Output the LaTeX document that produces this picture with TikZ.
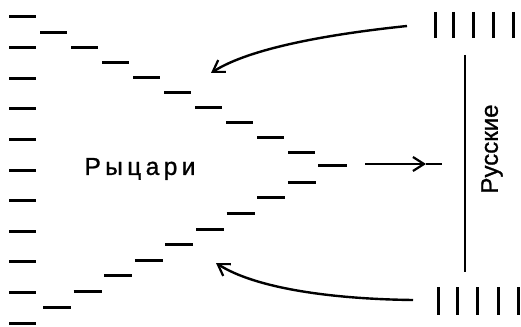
\documentclass[tikz,border=0pt]{standalone}
\usepackage{fontspec}
\setmainfont{Liberation Sans}
\usetikzlibrary{arrows.meta}
\begin{document}
\begin{tikzpicture}[x=1pt,y=-1pt,
    warrior/.style={line width=3pt},
    pike/.style={line width=3pt},
    move/.style={line width=2.4pt,-{Straight Barb[length=11pt,width=14pt,line width=2.2pt]}}]

        \useasboundingbox (0,0) rectangle (521,326);

        % knights: back row and the wedge
        \begin{scope}[every path/.style={warrior}]
          \foreach \i in {0,...,10}
            \draw (9,17+30.6*\i) -- ++(27,0);
          \foreach \i in {0,...,8} {
            \draw (40+31*\i,33+14.9*\i) -- ++(27,0);
            \draw (43+30.6*\i,307-15.6*\i) -- ++(28,0);
          }
          \draw (318,165) -- (347,165);
        \end{scope}

        % russians
        \begin{scope}[every path/.style={pike}]
          \foreach \x in {435,453,473,493,513}
            \draw (\x,12) -- (\x,38);
          \foreach \x in {438,457,477,498,518}
            \draw (\x,287) -- (\x,315);
        \end{scope}
        \draw[line width=2.4pt] (465,55) -- (465,272);

        \node (knights) at (140,169) {\fontsize{24.5}{28}\selectfont\addfontfeature{LetterSpace=18,FakeBold=1}Рыцари};
        \node[rotate=90] (russians) at (492,149) {\fontsize{24}{28}\selectfont\addfontfeature{FakeBold=1}Русские};

        \coordinate (r1) at (407,26);
        \coordinate (k1) at (211,73);
        \coordinate (r2) at (413,300);
        \coordinate (k2) at (216,263);
        \coordinate (m1) at (365,164);
        \coordinate (m2) at (426,164);
        \coordinate (m3) at (442,164);

        \draw[move] (r1) .. controls (330,34) and (250,48) .. (k1);
        \draw[move] (r2) .. controls (330,299) and (255,288) .. (k2);
        \draw[move] (m1) -- (m2);
        \draw[line width=2.4pt] (m2) -- (m3);

      \end{tikzpicture}
\end{document}
